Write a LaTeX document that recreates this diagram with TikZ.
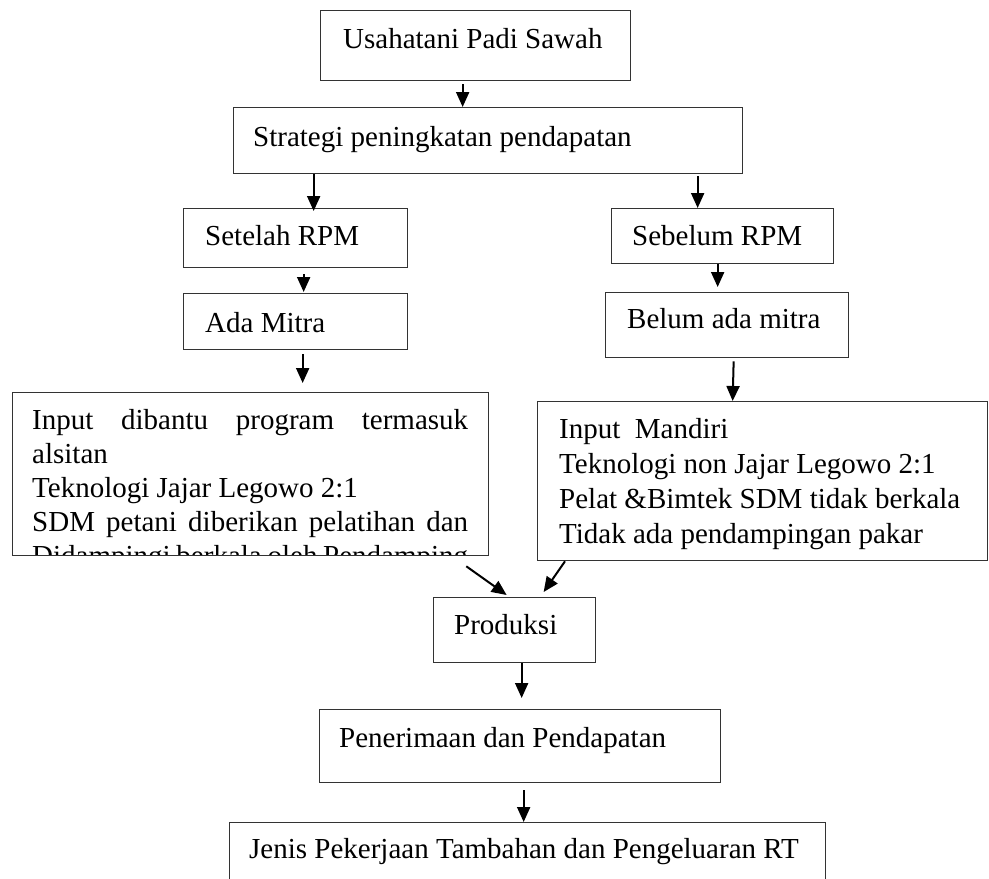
\documentclass[tikz,border=0pt]{standalone}
\usepackage{fontspec}
\setmainfont{Liberation Serif}
\usetikzlibrary{arrows.meta,calc}
\begin{document}
\begin{tikzpicture}[x=1pt,y=-1pt,
  box/.style={draw=black!80,line width=1.3pt,inner sep=0pt,anchor=north west},
  txt/.style={inner sep=0pt,anchor=base west,font=\fontsize{29}{34}\selectfont},
  arr/.style={line width=2pt,-{Triangle[length=15pt,width=13pt]}}]
\useasboundingbox (0,0) rectangle (989,879);
% boxes
\node[box,minimum width=310pt,minimum height=70pt] (b1) at (320,10) {};
\node[box,minimum width=509pt,minimum height=66pt] (b2) at (233,107) {};
\node[box,minimum width=224pt,minimum height=59pt] (b3) at (183,208) {};
\node[box,minimum width=222pt,minimum height=55pt] (b4) at (611,208) {};
\node[box,minimum width=224pt,minimum height=56pt] (b5) at (183,293) {};
\node[box,minimum width=243pt,minimum height=65pt] (b6) at (605,292) {};
\node[box,minimum width=476pt,minimum height=163pt] (b7) at (12,392) {};
\node[box,minimum width=450pt,minimum height=159pt] (b8) at (537,401) {};
\node[box,minimum width=162pt,minimum height=65pt] (b9) at (433,597) {};
\node[box,minimum width=401pt,minimum height=73pt] (b10) at (319,709) {};
\node[box,minimum width=596pt,minimum height=100pt] (b11) at (229,822) {};
% texts
\node[txt] (t1) at (343,48) {Usahatani Padi Sawah};
\node[txt] (t2) at (253,146) {Strategi peningkatan pendapatan};
\node[txt] (t3) at (205,245) {Setelah RPM};
\node[txt] (t4) at (632,245) {Sebelum RPM};
\node[txt] (t5) at (205,332) {Ada Mitra};
\node[txt] (t6) at (627,328) {Belum ada mitra};
\begin{scope}
\clip (13,393) rectangle (487,554);
\node[txt] (t7) at (32,429) {\parbox[t]{436pt}{\fontsize{29}{34}\selectfont\hyphenpenalty=10000\exhyphenpenalty=10000\setlength{\parfillskip}{0pt}Input dibantu program termasuk alsitan\\
Teknologi Jajar Legowo 2:1\\
SDM petani diberikan pelatihan dan Didampingi berkala oleh Pendamping}};
\end{scope}
\node[txt] (t8) at (559,438) {\parbox[t]{420pt}{\fontsize{29}{35}\selectfont\raggedright Input~ Mandiri\\
Teknologi non Jajar Legowo 2:1\\
Pelat \&Bimtek SDM tidak berkala\\
Tidak ada pendampingan pakar}};
\node[txt] (t9) at (454,634) {Produksi};
\node[txt] (t10) at (339,747) {Penerimaan dan Pendapatan};
\node[txt] (t11) at (249,858) {Jenis Pekerjaan Tambahan dan Pengeluaran RT};
% connectors
\draw[arr] ([xshift=-13pt,yshift=-3pt]b1.south) -- ([xshift=-25.5pt]b2.north);
\draw[arr] ([xshift=-174.5pt]b2.south) -- ([xshift=18pt,yshift=-3pt]b3.north);
\draw[arr] ([xshift=209.5pt,yshift=-2pt]b2.south) -- ([xshift=-25pt]b4.north);
\draw[arr] ([xshift=8pt,yshift=-6pt]b3.south) -- ([xshift=8pt,yshift=1pt]b5.north);
\draw[arr] ([xshift=-5pt]b4.south) -- ([xshift=-9.5pt,yshift=5pt]b6.north);
\draw[arr] ([xshift=7pt,yshift=-4pt]b5.south) -- ([xshift=52pt,yshift=9pt]b7.north);
\draw[arr] ([xshift=6.5pt,yshift=-3pt]b6.south) -- ([xshift=-30pt]b8.north);
\draw[arr] ([xshift=-23pt,yshift=-10pt]b7.south east) -- ([xshift=-8pt,yshift=2pt]b9.north);
\draw[arr] ([xshift=28pt]b8.south west) -- ([xshift=29pt,yshift=5pt]b9.north);
\draw[arr] ([xshift=7pt]b9.south) -- ([xshift=1.5pt,yshift=11pt]b10.north);
\draw[arr] ([xshift=3.5pt,yshift=-7pt]b10.south) -- ([xshift=-4pt]b11.north);
\end{tikzpicture}
\end{document}
